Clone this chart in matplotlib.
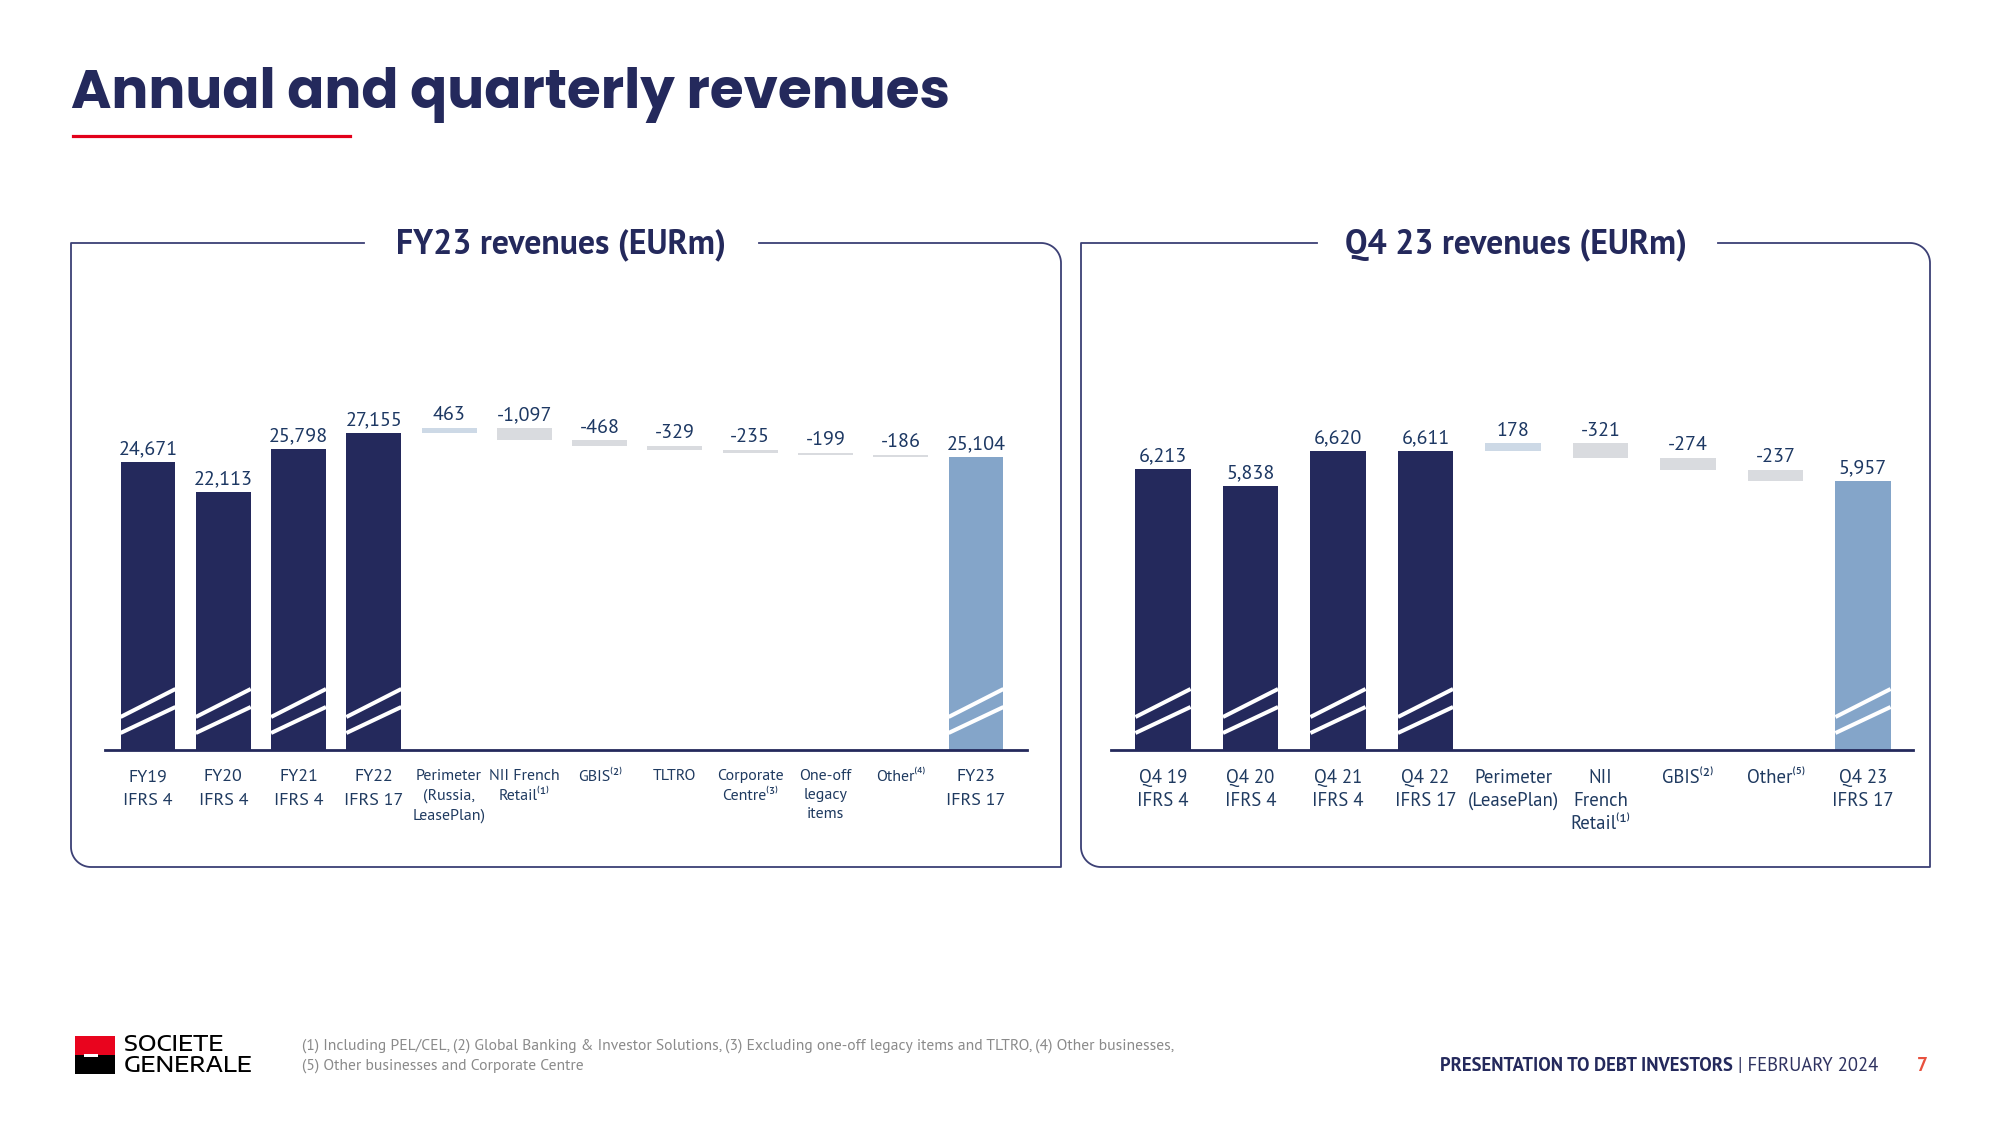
import numpy as np
import matplotlib
matplotlib.use("Agg")
import matplotlib.pyplot as plt
from matplotlib.transforms import Affine2D, blended_transform_factory
from matplotlib.lines import Line2D
from matplotlib.patches import Rectangle

# ---------------- data ----------------
fy_categories = ["FY19\nIFRS 4", "FY20\nIFRS 4", "FY21\nIFRS 4", "FY22\nIFRS 17",
                 "Perimeter\n(Russia,\nLeasePlan)", "NII French\nRetail⁽¹⁾", "GBIS⁽²⁾", "TLTRO",
                 "Corporate\nCentre⁽³⁾", "One-off\nlegacy\nitems", "Other⁽⁴⁾", "FY23\nIFRS 17"]
fy_totals = [24671, 22113, 25798, 27155]
fy_deltas = [463, -1097, -468, -329, -235, -199, -186]
fy_final = 25104

q4_categories = ["Q4 19\nIFRS 4", "Q4 20\nIFRS 4", "Q4 21\nIFRS 4", "Q4 22\nIFRS 17",
                 "Perimeter\n(LeasePlan)", "NII\nFrench\nRetail⁽¹⁾", "GBIS⁽²⁾", "Other⁽⁵⁾", "Q4 23\nIFRS 17"]
q4_totals = [6213, 5838, 6620, 6611]
q4_deltas = [178, -321, -274, -237]
q4_final = 5957

title_text = "Annual and quarterly revenues"
fy_title = "FY23 revenues (EURm)"
q4_title = "Q4 23 revenues (EURm)"
footnote_lines = ["(1) Including PEL/CEL, (2) Global Banking & Investor Solutions, (3) Excluding one-off legacy items and TLTRO, (4) Other businesses,",
                  "(5) Other businesses and Corporate Centre"]

# ---------------- style ----------------
W, H = 2000, 1125
NAVY = "#24295C"
POS = "#CDD9E6"
NEG = "#D9DBDF"
FINAL = "#84A5C9"
VALC = "#1D3863"
TICKC = "#1F3A60"
BOXC = "#3C4075"
RED = "#E2001A"
BODY = ["PT Sans", "Lato", "DejaVu Sans"]
HEAD = ["Poppins", "Open Sans", "DejaVu Sans"]
LOGO = ["Encode Sans Expanded", "DejaVu Sans"]

plt.rcParams["font.family"] = BODY

fig = plt.figure(figsize=(20, 11.25), dpi=100)
fig.patch.set_facecolor("white")
PX = Affine2D().scale(1 / W, -1 / H).translate(0, 1) + fig.transFigure
renderer = fig.canvas.get_renderer()


def fit(t, width):
    bb = t.get_window_extent(renderer)
    t.set_fontsize(t.get_fontsize() * width / bb.width)


def panel_box(x0, x1, y0, y1, g0, g1, r=20):
    xs, ys = [g1, x1 - r], [y0, y0]
    for t in np.linspace(np.pi / 2, 0, 24):
        xs.append(x1 - r + r * np.cos(t)); ys.append(y0 + r - r * np.sin(t))
    xs += [x1, x0 + r]; ys += [y1, y1]
    for t in np.linspace(np.pi / 2, np.pi, 24):
        xs.append(x0 + r + r * np.cos(t)); ys.append(y1 - r + r * np.sin(t))
    xs += [x0, g0]; ys += [y0, y0]
    fig.add_artist(Line2D(xs, ys, transform=PX, color=BOXC, lw=1.3))


def add_axes_px(left, right, top, bottom):
    return fig.add_axes([left / W, 1 - bottom / H, (right - left) / W, (bottom - top) / H])


def value_label(ax, x, top, v, fs=14.5):
    ax.annotate(f"{v:,}", xy=(x, top), xytext=(0, 5.5), textcoords="offset points",
                ha="center", va="baseline", fontsize=fs, color=VALC)


def waterfall(ax, cats, totals, deltas, final, bar_w, ymax, first_px, last_px, left_px, right_px):
    n = len(cats)
    xs = np.arange(n)
    step = (last_px - first_px) / (n - 1)
    ax.set_xlim(-(first_px - left_px) / step, (n - 1) + (right_px - last_px) / step)
    ax.set_ylim(0, ymax)
    full_patches = []
    bc = ax.bar(xs[:len(totals)], totals, width=bar_w, color=NAVY, zorder=2)
    full_patches += list(bc.patches)
    for i, v in enumerate(totals):
        value_label(ax, i, v, v)
    run = totals[-1]
    for j, d in enumerate(deltas):
        i = len(totals) + j
        lo, hi = (run, run + d) if d > 0 else (run + d, run)
        ax.bar(i, hi - lo, bottom=lo, width=bar_w, color=POS if d > 0 else NEG, zorder=2)
        value_label(ax, i, hi, d)
        run += d
    bc = ax.bar(n - 1, final, width=bar_w, color=FINAL, zorder=2)
    full_patches += list(bc.patches)
    value_label(ax, n - 1, final, final)

    for s in ["top", "right", "left"]:
        ax.spines[s].set_visible(False)
    ax.spines["bottom"].set_color(NAVY)
    ax.spines["bottom"].set_linewidth(2.0)
    ax.spines["bottom"].set_zorder(4)
    ax.set_yticks([])
    ax.set_xticks(xs)
    ax.set_xticklabels(cats, color=TICKC)
    ax.tick_params(axis="x", length=0, pad=14)
    ax.patch.set_alpha(0)

    bt = blended_transform_factory(ax.transData, ax.transAxes)
    axh = ax.get_position().height * H
    for p in full_patches:
        x0 = p.get_x(); x1 = x0 + p.get_width()
        for ya, yb in [(17, 43), (33, 61)]:
            ln = Line2D([x0, x1], [ya / axh, yb / axh], transform=bt, color="white",
                        lw=2.9, solid_capstyle="butt", zorder=3)
            ax.add_line(ln)
            ln.set_clip_path(p)


# ---------------- title ----------------
t = fig.text(71, 108, title_text, transform=PX, ha="left", va="baseline",
             fontsize=40, fontweight="bold", family=HEAD, color=NAVY)
fit(t, 880)
fig.add_artist(Line2D([73, 350], [135.5, 135.5], transform=PX, color=RED, lw=2.3))

# ---------------- panels ----------------
panel_box(71, 1061, 243, 867, 364, 759)
panel_box(1081, 1930, 243, 867, 1317, 1718)
t = fig.text(561, 253, fy_title, transform=PX, ha="center", va="baseline",
             fontsize=22, fontweight="bold", color=NAVY)
fit(t, 331)
t = fig.text(1516, 253, q4_title, transform=PX, ha="center", va="baseline",
             fontsize=22, fontweight="bold", color=NAVY)
fit(t, 342)

ax1 = add_axes_px(105, 1027, 300, 750)
waterfall(ax1, fy_categories, fy_totals, fy_deltas, fy_final, 0.73, 38560, 148, 976, 105, 1027)
for k, lab in enumerate(ax1.get_xticklabels()):
    if 4 <= k <= 10:
        lab.set_fontsize(11.5); lab.set_linespacing(1.45)
    else:
        lab.set_fontsize(13); lab.set_linespacing(1.62)

ax2 = add_axes_px(1111, 1913, 300, 750)
waterfall(ax2, q4_categories, q4_totals, q4_deltas, q4_final, 0.63, 9956, 1163, 1863, 1111, 1913)
for lab in ax2.get_xticklabels():
    lab.set_fontsize(13.5); lab.set_linespacing(1.33)

# ---------------- footer ----------------
fig.add_artist(Rectangle((75, 1036), 40, 19, transform=PX, color="#E9041E", lw=0))
fig.add_artist(Rectangle((75, 1055), 40, 19, transform=PX, color="#000000", lw=0))
fig.add_artist(Rectangle((84, 1054), 14, 2.5, transform=PX, color="white", lw=0))
fig.text(124, 1072, "GENERALE", transform=PX, ha="left", va="baseline",
         fontsize=16, family=LOGO, fontweight="medium", color="black")
fig.text(124, 1051, "SOCIETE", transform=PX, ha="left", va="baseline",
         fontsize=16, family=LOGO, fontweight="medium", color="black")

f1 = fig.text(302, 1046, footnote_lines[0], transform=PX, ha="left", va="center",
              fontsize=10, color="#8A8A8A")
fit(f1, 873)
fig.text(302, 1066, footnote_lines[1], transform=PX, ha="left", va="center",
         fontsize=f1.get_fontsize(), color="#8A8A8A")

b1 = fig.text(1440, 1071, "PRESENTATION TO DEBT INVESTORS", transform=PX, ha="left",
              va="baseline", fontsize=12, fontweight="bold", color=NAVY)
b2 = fig.text(1440, 1071, " | FEBRUARY 2024", transform=PX, ha="left",
              va="baseline", fontsize=12, color="#2E3260")
w1 = b1.get_window_extent(renderer).width
w2 = b2.get_window_extent(renderer).width
sc = 438 / (w1 + w2)
b1.set_fontsize(12 * sc); b2.set_fontsize(12 * sc)
w1 = b1.get_window_extent(renderer).width
b2.set_transform(fig.transFigure)
b2.set_position(((1440 + w1) / W, 1 - 1071 / H))
fig.text(1922, 1071, "7", transform=PX, ha="center", va="baseline",
         fontsize=14, fontweight="bold", color="#E8513E")

fig.savefig("out.png", dpi=100, facecolor="white")
